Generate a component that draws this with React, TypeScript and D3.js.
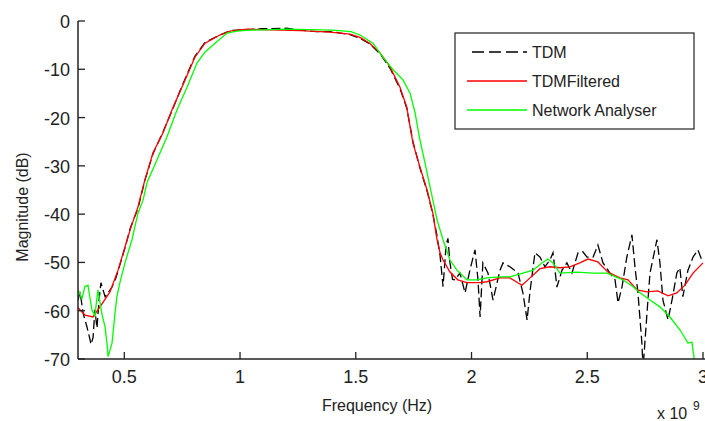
import React from "react";
import * as d3 from "d3";

// Frequency in units of 1e9 Hz, magnitude in dB
const tdmF = [0.300, 0.309, 0.322, 0.339, 0.352, 0.356, 0.365, 0.373, 0.382, 0.391, 0.399, 0.417, 0.430, 0.447, 0.464, 0.481, 0.503, 0.525, 0.559, 0.589, 0.624, 0.667, 0.706, 0.749, 0.805, 0.849, 0.913, 0.957, 1.030, 1.100, 1.200, 1.260, 1.330, 1.390, 1.475, 1.518, 1.560, 1.605, 1.648, 1.691, 1.720, 1.747, 1.777, 1.808, 1.833, 1.851, 1.864, 1.877, 1.890, 1.898, 1.907, 1.918, 1.929, 1.950, 1.972, 1.993, 2.015, 2.028, 2.037, 2.049, 2.071, 2.093, 2.123, 2.136, 2.166, 2.201, 2.222, 2.240, 2.252, 2.274, 2.296, 2.317, 2.339, 2.352, 2.369, 2.391, 2.412, 2.434, 2.460, 2.481, 2.499, 2.525, 2.546, 2.568, 2.598, 2.620, 2.633, 2.650, 2.671, 2.693, 2.706, 2.719, 2.736, 2.741, 2.758, 2.771, 2.801, 2.814, 2.827, 2.849, 2.866, 2.887, 2.900, 2.913, 2.935, 2.957, 2.978, 2.995];
const tdmDb = [-57.8, -56.1, -60.5, -63.4, -66.0, -67.0, -65.6, -59.8, -63.6, -57.8, -54.2, -57.1, -56.3, -55.1, -53.2, -50.5, -47.0, -43.0, -38.8, -33.0, -27.5, -23.0, -18.6, -13.5, -7.3, -4.4, -2.9, -2.0, -1.8, -1.6, -1.5, -1.9, -2.2, -2.2, -2.8, -3.6, -4.7, -6.8, -9.8, -14.0, -18.0, -25.0, -30.4, -35.2, -40.0, -44.5, -48.5, -55.0, -46.5, -45.0, -50.1, -53.5, -53.6, -52.2, -56.3, -51.6, -47.4, -53.6, -61.3, -50.1, -52.2, -57.8, -51.6, -50.1, -50.9, -52.2, -56.3, -61.9, -56.3, -48.0, -48.9, -50.9, -49.5, -48.0, -55.1, -51.6, -50.1, -52.2, -48.0, -47.8, -48.9, -48.9, -46.4, -50.1, -52.2, -53.6, -58.4, -55.1, -48.9, -44.3, -50.9, -56.3, -66.7, -72.0, -60.5, -52.2, -45.3, -50.1, -57.8, -61.9, -57.8, -52.2, -51.1, -57.1, -51.6, -48.9, -47.4, -49.5];

const filtF = [0.300, 0.330, 0.365, 0.395, 0.438, 0.473, 0.503, 0.525, 0.559, 0.589, 0.624, 0.667, 0.706, 0.749, 0.805, 0.849, 0.913, 0.957, 1.030, 1.090, 1.260, 1.390, 1.475, 1.518, 1.560, 1.605, 1.648, 1.691, 1.720, 1.747, 1.777, 1.808, 1.833, 1.850, 1.864, 1.877, 1.907, 1.941, 1.980, 2.036, 2.067, 2.123, 2.166, 2.200, 2.218, 2.253, 2.296, 2.339, 2.382, 2.425, 2.468, 2.503, 2.546, 2.589, 2.641, 2.676, 2.715, 2.758, 2.805, 2.849, 2.887, 2.922, 2.957, 3.000];
const filtDb = [-59.4, -60.9, -61.3, -59.2, -56.1, -51.6, -46.8, -43.3, -38.5, -32.9, -27.3, -23.2, -18.4, -13.7, -7.5, -4.6, -2.9, -2.1, -1.7, -1.8, -2.0, -2.3, -2.7, -3.4, -4.6, -6.6, -9.5, -13.7, -17.8, -25.3, -30.2, -35.0, -39.8, -45.0, -48.0, -49.5, -52.0, -53.6, -54.2, -54.2, -54.0, -53.2, -53.2, -54.2, -54.7, -53.2, -51.3, -50.9, -51.1, -50.9, -50.1, -49.3, -49.9, -52.0, -53.2, -53.6, -55.7, -56.1, -55.9, -56.9, -56.3, -54.7, -52.2, -50.1];

const naF = [0.300, 0.317, 0.330, 0.343, 0.360, 0.373, 0.386, 0.404, 0.417, 0.425, 0.430, 0.447, 0.460, 0.468, 0.481, 0.503, 0.533, 0.559, 0.581, 0.598, 0.641, 0.684, 0.728, 0.771, 0.814, 0.849, 0.900, 0.944, 0.987, 1.043, 1.200, 1.400, 1.480, 1.518, 1.574, 1.617, 1.661, 1.704, 1.734, 1.756, 1.777, 1.799, 1.821, 1.851, 1.877, 1.907, 1.937, 1.980, 2.024, 2.067, 2.123, 2.166, 2.222, 2.266, 2.304, 2.330, 2.352, 2.382, 2.455, 2.525, 2.585, 2.654, 2.697, 2.728, 2.771, 2.814, 2.857, 2.901, 2.935, 2.952, 2.965];
const naDb = [-55.7, -57.5, -55.0, -54.7, -59.8, -61.0, -55.7, -60.8, -63.4, -66.7, -69.5, -66.7, -60.5, -57.1, -54.2, -50.1, -45.3, -39.8, -37.1, -33.5, -28.8, -24.0, -18.4, -13.7, -8.7, -6.4, -4.3, -2.5, -2.1, -1.9, -1.7, -1.9, -2.2, -2.9, -4.6, -7.5, -10.1, -12.2, -14.9, -19.0, -24.6, -29.4, -34.4, -41.2, -45.3, -49.5, -51.6, -53.6, -53.6, -53.2, -53.0, -53.0, -52.2, -51.6, -50.1, -49.3, -50.1, -52.2, -52.0, -52.2, -52.2, -53.6, -55.0, -56.3, -57.8, -59.2, -61.3, -64.0, -66.7, -66.5, -71.0];

const xTicks = [0.5, 1, 1.5, 2, 2.5, 3];
const xTickLabels = ["0.5", "1", "1.5", "2", "2.5", "3"];
const yTicks = [0, -10, -20, -30, -40, -50, -60, -70];
const yTickLabels = ["0", "-10", "-20", "-30", "-40", "-50", "-60", "-70"];
const seriesNames = ["TDM", "TDMFiltered", "Network Analyser"];
const seriesColors = ["#000000", "#ff0000", "#00ff00"];

const W = 705;
const H = 421;
const L = 78, R = 703, T = 21, B = 359;
const FONT = "'Liberation Sans', Arial, sans-serif";

export default function App() {
  const x = d3.scaleLinear().domain([0.3, 3]).range([L, R]);
  const y = d3.scaleLinear().domain([-70, 0]).range([B, T]);
  const line = d3
    .line<[number, number]>()
    .x((d) => x(d[0]))
    .y((d) => y(d[1]));
  const zip = (a: number[], b: number[]) => a.map((v, i) => [v, b[i]] as [number, number]);
  const series = [zip(tdmF, tdmDb), zip(filtF, filtDb), zip(naF, naDb)];
  const dashes = ["9,4", undefined, undefined];

  const legX = 455, legY = 33, legW = 239, legH = 96;
  const legRows = [52, 81, 110];

  return (
    <svg
      width={W}
      height={H}
      style={{ position: "absolute", left: 0, top: 0, background: "#fff" }}
      fontFamily={FONT}
    >
      <rect x={0} y={0} width={W} height={H} fill="#fff" />
      <defs>
        <clipPath id="plot">
          <rect x={L} y={0} width={W - L} height={B - 0} />
        </clipPath>
      </defs>
      <g clipPath="url(#plot)">
        {series.map((s, i) => (
          <path
            key={i}
            d={line(s) || ""}
            fill="none"
            stroke={seriesColors[i]}
            strokeWidth={1.3}
            strokeDasharray={dashes[i]}
          />
        ))}
      </g>
      {/* axes */}
      <line x1={L} x2={L} y1={T} y2={B} stroke="#222" strokeWidth={1.5} />
      <line x1={L} x2={W} y1={B} y2={B} stroke="#222" strokeWidth={1.5} />
      {xTicks.map((t, i) => (
        <g key={"x" + i}>
          <line x1={x(t)} x2={x(t)} y1={B} y2={B - 7} stroke="#222" strokeWidth={1.3} />
          <text x={x(t)} y={B + 24} fontSize={18} textAnchor="middle" fill="#222">
            {xTickLabels[i]}
          </text>
        </g>
      ))}
      {yTicks.map((t, i) => (
        <g key={"y" + i}>
          <line x1={L} x2={L + 7} y1={y(t)} y2={y(t)} stroke="#222" strokeWidth={1.3} />
          <text x={L - 8} y={y(t) + 7} fontSize={18} textAnchor="end" fill="#222">
            {yTickLabels[i]}
          </text>
        </g>
      ))}
      <text x={377} y={411} fontSize={16} textAnchor="middle" fill="#222">
        Frequency (Hz)
      </text>
      <text
        transform="translate(28,207) rotate(-90)"
        fontSize={16}
        textAnchor="middle"
        fill="#222"
      >
        Magnitude (dB)
      </text>
      <text x={657} y={419} fontSize={16} fill="#222">
        x 10
      </text>
      <text x={693} y={410} fontSize={12} fill="#222">
        9
      </text>
      {/* legend */}
      <rect x={legX} y={legY} width={legW} height={legH} fill="#fff" stroke="#222" strokeWidth={1.2} />
      {seriesNames.map((n, i) => (
        <g key={"l" + i}>
          <line
            x1={467}
            x2={527}
            y1={legRows[i]}
            y2={legRows[i]}
            stroke={seriesColors[i]}
            strokeWidth={1.3}
            strokeDasharray={i === 0 ? "12,5" : undefined}
            strokeDashoffset={i === 0 ? -5 : 0}
          />
          <text x={532} y={legRows[i] + 6} fontSize={16} fill="#222">
            {n}
          </text>
        </g>
      ))}
    </svg>
  );
}
